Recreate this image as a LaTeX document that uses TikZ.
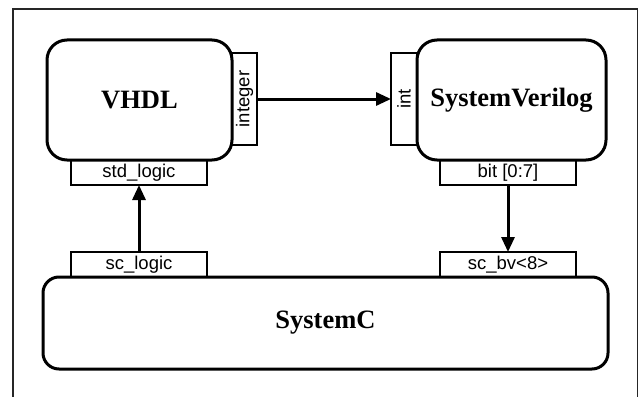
\documentclass[tikz,border=0pt]{standalone}
\usepackage{fontspec}
\setmainfont{Liberation Serif}
\newfontfamily\portfont{Liberation Sans}
\usetikzlibrary{arrows.meta}
\tikzset{
  bigbox/.style={draw=black, line width=3pt, rounded corners=20pt, fill=white,
    inner sep=0pt, outer sep=0pt, font=\fontsize{26.5}{26.5}\selectfont\bfseries},
  portbox/.style={draw=black, line width=1.2pt, fill=white, inner sep=0pt, outer sep=0pt,
    font=\portfont\fontsize{18.5}{18.5}\selectfont},
  conn/.style={line width=3pt, -{Triangle[length=15pt,width=13pt]}},
  frameline/.style={draw=black!85, line width=1.2pt}
}
\begin{document}
\begin{tikzpicture}[x=1pt,y=-1pt]
\useasboundingbox (0,0) rectangle (639,396);
\draw[frameline] (13,397) -- (13,9) -- (637.5,9) -- (637.5,397);
% ports
\node[portbox, minimum width=25pt, minimum height=92pt] (integer) at (244.5,99) {\rotatebox{90}{integer}};
\node[portbox, minimum width=136pt, minimum height=25pt] (stdlogic) at (139,172.5) {std\_logic};
\node[portbox, minimum width=26pt, minimum height=92pt] (int) at (404,99) {\rotatebox{90}{int}};
\node[portbox, minimum width=136pt, minimum height=25pt] (bit) at (508,172.5) {bit [0:7]};
\node[portbox, minimum width=136pt, minimum height=25pt] (sclogic) at (139,264.5) {sc\_logic};
\node[portbox, minimum width=136pt, minimum height=25pt] (scbv) at (508,264.5) {sc\_bv<8>};
% main boxes
\node[bigbox, minimum width=185pt, minimum height=120pt] (vhdl) at (139.5,100) {VHDL};
\node[bigbox, minimum width=189pt, minimum height=120pt] (sv) at (511.5,100) {SystemVerilog};
\node[bigbox, rounded corners=16pt, minimum width=565pt, minimum height=92pt] (systemc) at (325.5,323) {SystemC};
% connectors
\draw[conn] (integer.east) -- (int.west);
\draw[conn] (sclogic.north) -- (stdlogic.south);
\draw[conn] (bit.south) -- (scbv.north);
\end{tikzpicture}
\end{document}
